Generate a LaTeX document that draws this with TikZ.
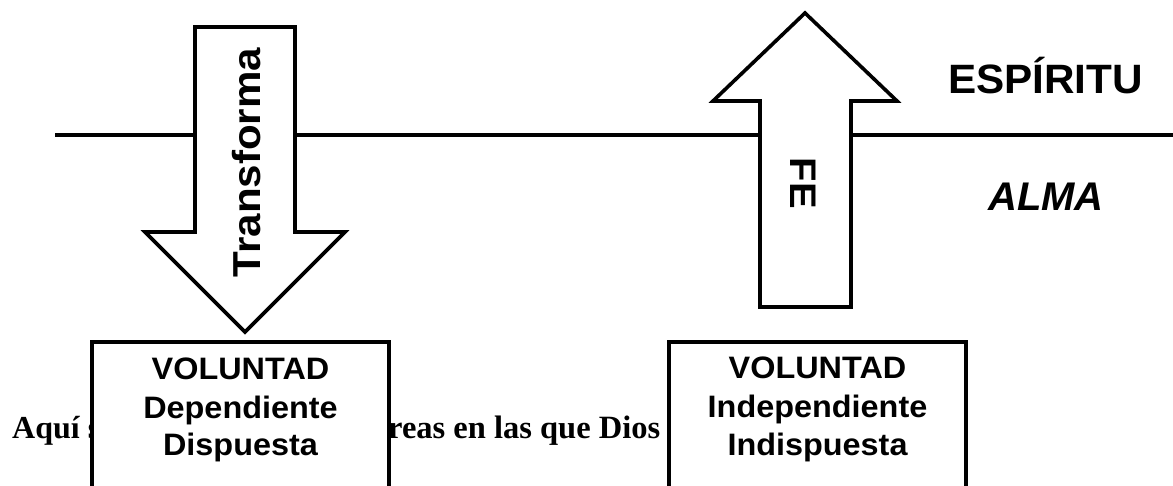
\documentclass[tikz,border=0pt]{standalone}
\usepackage{fontspec}
\usepackage{graphicx}
\setmainfont{Liberation Serif}
\newfontfamily\arial{Liberation Sans}
\tikzset{
  x=1pt, y=-1pt,
  ln/.style={line width=3.6pt, line join=miter},
  bigarrow/.style={ln, fill=white},
  vbox/.style={draw, line width=3.8pt, fill=white, minimum width=297pt, minimum height=220pt, anchor=north, inner sep=0pt},
  lbl/.style={inner sep=0pt, anchor=base},
}
\newcommand{\fsz}[1]{\fontsize{#1}{#1}\selectfont}
\newcommand{\boxtxt}[1]{\arial\bfseries\fsz{31}\scalebox{1.045}[1]{#1}}
\begin{document}
\begin{tikzpicture}
\useasboundingbox (0,0) rectangle (1173,485);
\fill[white] (0,0) rectangle (1173,485);
\clip (0,0) rectangle (1173,485);

% background sentence (partly hidden by boxes)
\node[inner sep=0pt, anchor=base west] (s1) at (12,438) {\bfseries\fsz{32}Aquí s};
\node[inner sep=0pt, anchor=base west] (s2) at (388,438) {\bfseries\fsz{32.5}reas en las que Dios m};

% dividing line
\coordinate (lineL) at (55,135);
\coordinate (lineR) at (1173,135);
\draw[ln] (lineL) -- (lineR);

% boxes
\node[vbox] (boxL) at (240.5,340) {};
\node[vbox] (boxR) at (817.5,340) {};

\node[lbl] (vL) at (240.5,379) {\boxtxt{VOLUNTAD}};
\node[lbl] (dL) at (240.5,418) {\boxtxt{Dependiente}};
\node[lbl] (pL) at (240.5,455) {\boxtxt{Dispuesta}};

\node[lbl] (vR) at (817.5,378) {\boxtxt{VOLUNTAD}};
\node[lbl] (dR) at (817.5,417) {\boxtxt{Independiente}};
\node[lbl] (pR) at (817.5,455) {\boxtxt{Indispuesta}};

% Transforma arrow (down)
\draw[bigarrow] (195,27) -- (295,27) -- (295,232) -- (345,232) -- (245,332) -- (145,232) -- (195,232) -- cycle;
\node[inner sep=0pt, rotate=90] (tr) at (246.5,162.5) {\arial\bfseries\fsz{39}\scalebox{1.08}[1]{Transforma}};

% FE arrow (up)
\draw[bigarrow] (760,307) -- (851,307) -- (851,101) -- (897,101) -- (805,13) -- (713,101) -- (760,101) -- cycle;
\node[inner sep=0pt, rotate=-90] (fe) at (803.5,183.5) {\arial\bfseries\fsz{37}\scalebox{1.08}[1]{FE}};

% labels
\node[lbl] (esp) at (1045.5,93) {\arial\bfseries\fsz{41}\scalebox{1.03}[1]{ESPÍRITU}};
\node[lbl] (alma) at (1046,210) {\arial\bfseries\itshape\fsz{40}ALMA};
\end{tikzpicture}
\end{document}
